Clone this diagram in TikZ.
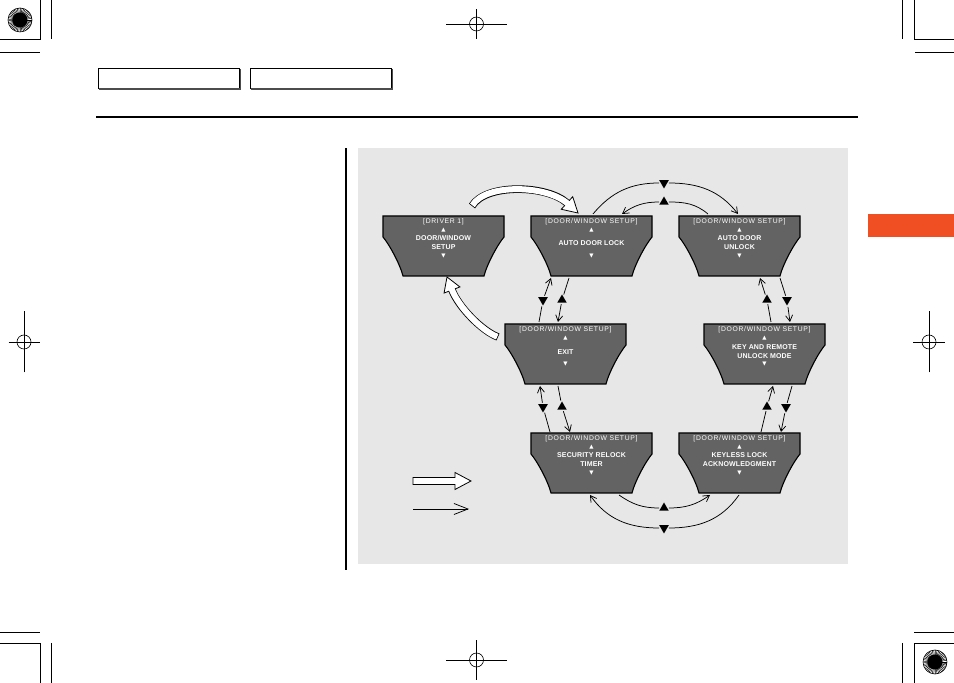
\documentclass[tikz,border=0pt]{standalone}
\usepackage{fontspec}
\setmainfont{Liberation Sans}
\newfontfamily\hdrf[LetterSpace=10]{Liberation Sans}
\newfontfamily\bodyf[LetterSpace=2]{Liberation Sans}
\newfontfamily\symf{DejaVu Sans}
\usetikzlibrary{arrows.meta,calc,shapes.geometric}
\definecolor{panel}{HTML}{E7E7E7}
\definecolor{boxfill}{HTML}{636363}
\definecolor{tabc}{HTML}{F04E23}
\tikzset{
  disp/.style={rectangle, draw=none, minimum width=121pt, minimum height=60pt, inner sep=0pt, outer sep=0pt, anchor=north west},
  dispshape/.style={fill=boxfill, draw=black, line width=1.1pt, line join=miter},
  hdrtext/.style={text=white, font=\hdrf\fontsize{6.8}{7}\selectfont, inner sep=0pt},
  bodytext/.style={text=white, font=\bodyf\bfseries\fontsize{7}{9}\selectfont, inner sep=0pt, align=center},
  tritext/.style={text=white, font=\symf\fontsize{5.5}{5.5}\selectfont, inner sep=0pt},
  mkup/.style={regular polygon, regular polygon sides=3, fill=black, inner sep=0pt, minimum size=11pt, outer sep=1.5pt},
  mkdown/.style={mkup, shape border rotate=180},
  conn/.style={line width=0.75pt},
  conna/.style={conn, -{Straight Barb[length=6pt,width=7pt]}},
  cropln/.style={line width=0.7pt, black},
  hdrbox/.style={draw=black, line width=0.8pt, fill=white, minimum width=141pt, minimum height=20pt, inner sep=0pt},
  bighead/.style={fill=white, draw=black, line width=0.8pt, line join=miter},
}
\newcommand\dbox[4]{%
  \node[disp] (#1) at (#2,#3) {};
  \draw[dispshape, shift={(#1.north west)}] (0,0) -- (121,0) -- (121,-21) .. controls (115,-28) and (104,-48) .. (101,-60) -- (20,-60) .. controls (17,-48) and (6,-28) .. (0,-21) -- cycle;
  \node[hdrtext] (#1h) at ($(#1.north)+(0,-6)$) {#4};
  \node[tritext] (#1u) at ($(#1.north)+(0,-14)$) {▲};
  \node[tritext] (#1d) at ($(#1.north)+(0,-40.5)$) {▼};
}
\newcommand\regmark[2]{%
  \begin{scope}[shift={(#1,#2)}]
    \fill[white] (0,0) circle (12);
    \foreach \a in {0,8,...,352} \draw[line width=0.5pt] (\a:6) -- (\a:12);
    \draw[line width=0.6pt] (0,0) circle (12);
    \fill[black] (0,0) circle (7.5);
  \end{scope}}
\newcommand\crosshair[5]{% cx cy half-h half-v r
  \draw[cropln] ({#1-#3},#2) -- ({#1+#3},#2);
  \draw[cropln] (#1,{#2-#4}) -- (#1,{#2+#4});
  \draw[line width=0.6pt] (#1,#2) circle (#5);}
\begin{document}
\begin{tikzpicture}[x=1pt,y=1pt]
\useasboundingbox (0,0) rectangle (954,683);
\fill[white] (0,0) rectangle (954,683);
% printer marks
\regmark{20}{663}
\regmark{935}{21}
\crosshair{476.5}{659}{30.5}{15}{7}
\crosshair{476.5}{23}{30.5}{20}{7}
\crosshair{24}{341}{15.5}{30.5}{7}
\crosshair{929}{341}{16}{30.5}{7}
\draw[cropln] (40,683) -- (40,644) -- (0,644);
\draw[cropln] (51,683) -- (51,644);
\draw[cropln] (0,631) -- (40,631);
\draw[cropln] (902,683) -- (902,644);
\draw[cropln] (954,644) -- (914,644) -- (914,683);
\draw[cropln] (915,631) -- (954,631);
\draw[cropln] (0,51) -- (40,51);
\draw[cropln] (0,40) -- (40,40) -- (40,0);
\draw[cropln] (51,40) -- (51,0);
\draw[cropln] (914,51) -- (954,51);
\draw[cropln] (954,40) -- (914,40) -- (914,0);
\draw[cropln] (902,40) -- (902,0);
% header
\node[hdrbox] (hb1) at (168.5,605) {};
\node[hdrbox] (hb2) at (320.5,605) {};
\draw[line width=1.6pt, black!70] ($(hb1.south west)+(1.5,-0.9)$) -- ($(hb1.south east)+(0.9,-0.9)$) -- ($(hb1.north east)+(0.9,-1.5)$);
\draw[line width=1.6pt, black!70] ($(hb2.south west)+(1.5,-0.9)$) -- ($(hb2.south east)+(0.9,-0.9)$) -- ($(hb2.north east)+(0.9,-1.5)$);
\draw[line width=1.2pt] (96,566) -- (858,566);
\node[fill=tabc, minimum width=86pt, minimum height=23pt, inner sep=0pt, anchor=south west] (tab) at (868,446) {};
\draw[line width=2pt] (346,113) -- (346,535);
\fill[panel] (358,119) rectangle (848,535);
% display boxes
\dbox{drv}{383}{467}{[DRIVER 1]}
\dbox{lock}{531}{467}{[DOOR/WINDOW SETUP]}
\dbox{unlock}{679}{467}{[DOOR/WINDOW SETUP]}
\dbox{exit}{505}{359}{[DOOR/WINDOW SETUP]}
\dbox{key}{704}{359}{[DOOR/WINDOW SETUP]}
\dbox{relock}{531}{250}{[DOOR/WINDOW SETUP]}
\dbox{keyless}{679}{250}{[DOOR/WINDOW SETUP]}
\node[bodytext] (drvt) at ($(drv.north)+(0,-26.5)$) {DOOR/WINDOW\\SETUP};
\node[bodytext] (lockt) at ($(lock.north)+(0,-27)$) {AUTO DOOR LOCK};
\node[bodytext] (unlockt) at ($(unlock.north)+(0,-26.5)$) {AUTO DOOR\\UNLOCK};
\node[bodytext] (exitt) at ($(exit.north)+(0,-28)$) {EXIT};
\node[bodytext] (keyt) at ($(key.north)+(0,-27.5)$) {KEY AND REMOTE\\UNLOCK MODE};
\node[bodytext] (relockt) at ($(relock.north)+(0,-26.5)$) {SECURITY RELOCK\\TIMER};
\node[bodytext] (keylesst) at ($(keyless.north)+(0,-26.5)$) {KEYLESS LOCK\\ACKNOWLEDGMENT};
% markers
\node[mkdown] (mt1) at (664,500) {};
\node[mkup] (mt2) at (664,481) {};
\node[mkup] (mb1) at (664,175) {};
\node[mkdown] (mb2) at (664,155) {};
\node[mkdown] (ml1) at (543,383) {};
\node[mkup] (ml2) at (562,383) {};
\node[mkdown] (ml3) at (543,276) {};
\node[mkup] (ml4) at (562,276) {};
\node[mkup] (mr1) at (767,383) {};
\node[mkdown] (mr2) at (787,383) {};
\node[mkup] (mr3) at (767,276) {};
\node[mkdown] (mr4) at (786,276) {};
% top connectors
\draw[conn] ($(lock.north)+(1.5,2)$) to[out=50,in=180] (mt1);
\draw[conna] (mt1) to[out=0,in=128] ($(unlock.north)+(-1.5,2)$);
\draw[conn] ($(unlock.north)+(-31.5,2)$) to[out=140,in=0] (mt2);
\draw[conna] (mt2) to[out=180,in=35] ($(lock.north)+(30.5,2)$);
% bottom connectors
\draw[conn] ($(relock.south)+(27.5,-2)$) to[out=-35,in=180] (mb1);
\draw[conna] (mb1) to[out=0,in=-145] ($(keyless.south)+(-29.5,-2)$);
\draw[conn] ($(keyless.south)+(-0.5,-2)$) to[out=-125,in=0] (mb2);
\draw[conna] (mb2) to[out=180,in=-55] ($(relock.south)+(-1.5,-2)$);
% left column
\draw[conn] ($(exit.north)+(-26.5,2)$) -- (ml1);
\draw[conna] (ml1) -- ($(lock.south west)+(20,-2)$);
\draw[conn] ($(lock.south west)+(38,-2)$) -- (ml2);
\draw[conna] (ml2) -- ($(exit.north)+(-7.5,2)$);
\draw[conn] ($(relock.north)+(-41.5,1)$) -- (ml3);
\draw[conna] (ml3) -- ($(exit.south west)+(35,-2)$);
\draw[conn] ($(exit.south west)+(53,-2)$) -- (ml4);
\draw[conna] (ml4) -- ($(relock.north)+(-21.5,1)$);
% right column
\draw[conn] ($(key.north)+(6.5,2)$) -- (mr1);
\draw[conna] (mr1) -- ($(unlock.south west)+(81,-2)$);
\draw[conn] ($(unlock.south west)+(101,-2)$) -- (mr2);
\draw[conna] (mr2) -- ($(key.north)+(25.5,2)$);
\draw[conn] ($(keyless.north)+(21.5,1)$) -- (mr3);
\draw[conna] (mr3) -- ($(key.south west)+(69,-2)$);
\draw[conn] ($(key.south west)+(88,-2)$) -- (mr4);
\draw[conna] (mr4) -- ($(keyless.north)+(41.5,1)$);
% big hollow arrows
\coordinate (a1s) at (472,477);
\coordinate (a1b) at (567,480);
\coordinate (a1t) at (578,470);
\filldraw[bighead] ($(a1b)!8.5pt!90:(a1t)$) -- (a1t) -- ($(a1b)!8.5pt!-90:(a1t)$) -- cycle;
\draw[line width=7.6pt] (a1s) .. controls (486,500) and (547.2,498) .. (a1b);
\draw[line width=6pt, white, shorten <=0.8pt, shorten >=-1.2pt] (a1s) .. controls (486,500) and (547.2,498) .. (a1b);
\coordinate (a2s) at (498,346);
\coordinate (a2b) at (452,393);
\coordinate (a2t) at (447,406);
\filldraw[bighead] ($(a2b)!8.5pt!90:(a2t)$) -- (a2t) -- ($(a2b)!8.5pt!-90:(a2t)$) -- cycle;
\draw[line width=7.6pt] (a2s) .. controls (482,352) and (458.5,376) .. (a2b);
\draw[line width=6pt, white, shorten <=0.8pt, shorten >=-1.2pt] (a2s) .. controls (482,352) and (458.5,376) .. (a2b);
% legend
\coordinate (lg1) at (413,202);
\filldraw[bighead] (lg1) ++(0,3.5) -- ++(42,0) -- ++(0,5) -- (471,202) -- (455,193.5) -- (455,198.5) -- (413,198.5) -- cycle;
\coordinate (lg2s) at (413,174);
\coordinate (lg2e) at (469,174);
\draw[line width=0.75pt, -{Straight Barb[length=14pt,width=11pt]}] (lg2s) -- (lg2e);
\end{tikzpicture}
\end{document}
